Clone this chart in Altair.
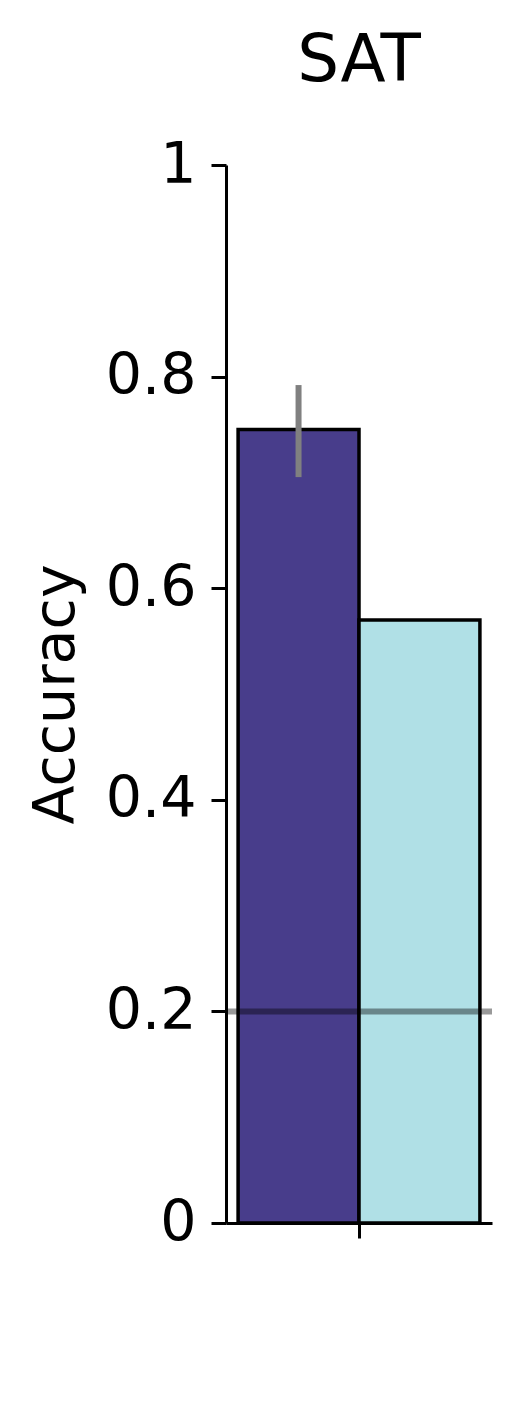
import altair as alt
import pandas as pd

# ---- data ----
methods = ["Model", "Baseline"]
accuracy = [0.75, 0.57]
err_low = [0.705, None]
err_high = [0.792, None]
bar_colors = ["#483D8B", "#B0E0E6"]
chance_level = [0.2]
y_ticks = [0, 0.2, 0.4, 0.6, 0.8, 1]
panel_title = "SAT"

FONT = "DejaVu Sans"

df = pd.DataFrame({
    "method": methods,
    "accuracy": accuracy,
    "lo": err_low,
    "hi": err_high,
})
df["left"] = [i - 1 for i in range(len(methods))]
df["right"] = [i for i in range(len(methods))]
df["center"] = [i - 0.5 for i in range(len(methods))]

x_scale = alt.Scale(domain=[-1.1, 1.1], nice=False, zero=False)
y_scale = alt.Scale(domain=[0, 1], nice=False, zero=True)

x_axis = alt.Axis(
    values=[0], labels=False, title=None, grid=False,
    domainColor="black", domainWidth=3, tickColor="black", tickWidth=3,
    tickSize=15,
)
y_axis = alt.Axis(
    values=y_ticks, format="~g", grid=False, title="Accuracy",
    domainColor="black", domainWidth=3, tickColor="black", tickWidth=3,
    tickSize=15, labelFont=FONT, labelFontSize=57, labelColor="black",
    labelPadding=15, labelFlush=False, labelOverlap=False,
    titleFont=FONT, titleFontSize=57, titleFontWeight="normal", titleColor="black",
    titleAngle=270, titleX=-153, titleY=529, titleAlign="center",
    titleBaseline="alphabetic",
)

base = alt.Chart(df)

bars = base.mark_bar(stroke="black", strokeWidth=3.5).encode(
    x=alt.X("left:Q", scale=x_scale, axis=x_axis),
    x2="right:Q",
    y=alt.Y("accuracy:Q", scale=y_scale, axis=y_axis),
    y2=alt.datum(0),
    color=alt.Color("method:N", scale=alt.Scale(domain=methods, range=bar_colors), legend=None),
)

chance = alt.Chart(pd.DataFrame({"chance": chance_level})).mark_rule(
    color="black", opacity=0.4, strokeWidth=6
).encode(y=alt.Y("chance:Q", scale=y_scale))

errs = base.transform_filter("datum.lo != null").mark_rule(
    color="#808080", strokeWidth=6
).encode(
    x=alt.X("center:Q", scale=x_scale),
    y=alt.Y("lo:Q", scale=y_scale),
    y2="hi:Q",
)

chart = alt.layer(bars, chance, errs).properties(
    width=266,
    height=1058,
    background="white",
    title=alt.TitleParams(
        panel_title, font=FONT, fontSize=66, fontWeight="normal", color="black",
        frame="group", anchor="middle", offset=41,
    ),
    autosize=alt.AutoSizeParams(type="none"),
    padding={"left": 218, "top": 157, "right": 21, "bottom": 175},
).configure_view(stroke="transparent", strokeWidth=0)

chart.save("out.html", embed_options={"renderer": "svg", "actions": False})
